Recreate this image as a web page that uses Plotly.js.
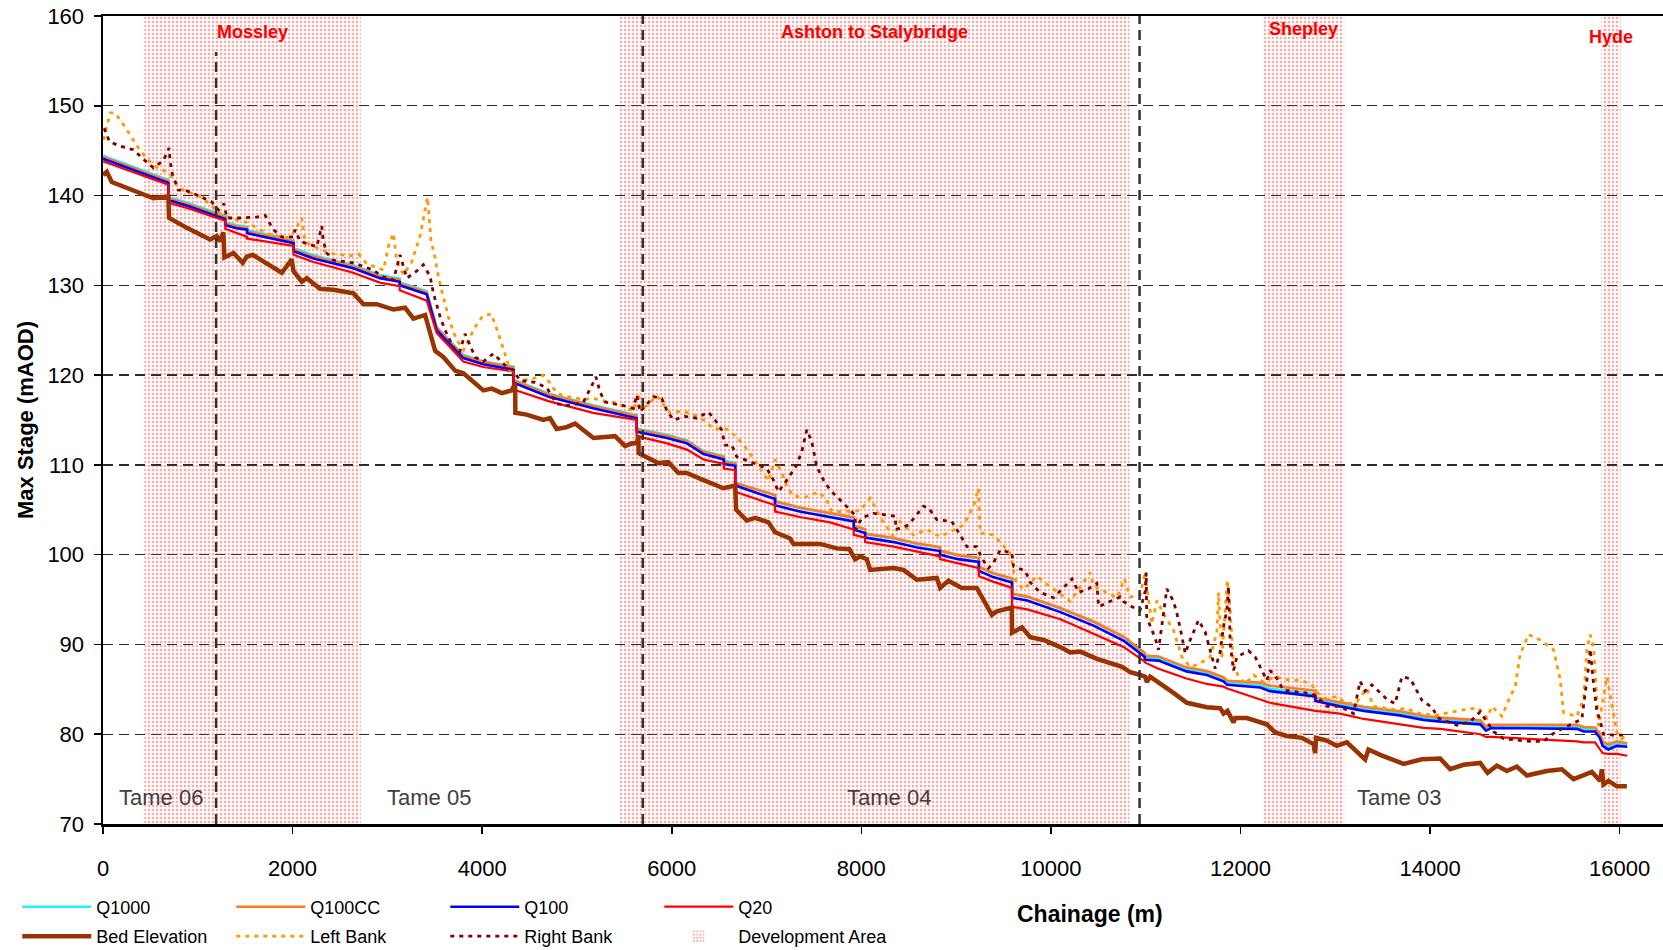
<!DOCTYPE html>
<html>
<head>
<meta charset="utf-8">
<script src="https://cdn.plot.ly/plotly-3.0.1.min.js"></script>
<style>
  html, body { margin: 0; padding: 0; background: #ffffff; overflow: hidden; }
  #chart { width: 1663px; height: 950px; }
</style>
</head>
<body>
<div id="chart"></div>
<script>
// ---------------- DATA ----------------
// Chainage (m) of model-result points (shared by the four return periods)
const modelX = [0, 690, 690, 920, 1200, 1290, 1290, 1410, 1520, 1520, 2010, 2010, 2220, 2640, 2920, 3130, 3130, 3415, 3520, 3750,
  3800, 4010, 4330, 4330, 4700, 5170, 5630, 5630, 5950, 6160, 6335, 6550, 6550, 6670, 6670, 7090, 7090, 7350, 7670, 7920,
  7920, 8040, 8040, 8340, 8590, 8830, 8830, 9020, 9240, 9240, 9390, 9590, 9590, 9750, 10100, 10450, 10770, 10990, 10990, 11135,
  11430, 11645, 11820, 11860, 12210, 12310, 12790, 12790, 13050, 13300, 13680, 13930, 14110, 14530, 14590, 14650, 15550, 15620, 15740, 15790,
  15820, 15880, 15970, 16080];

const q1000 = [144.45, 141.75, 139.85, 139.1, 138.05, 137.75, 137.05, 136.7, 136.55, 136.15, 135.05, 134.15, 133.35, 132.25, 131.15, 130.75, 130.35, 129.35, 125.35, 122.75,
  122.25, 121.55, 120.95, 119.5, 117.95, 116.65, 115.55, 114.05, 113.35, 112.75, 111.55, 110.95, 110.45, 110.25, 108.05, 106.6, 105.9, 105.2, 104.6, 104.1,
  103.2, 102.8, 102.3, 101.8, 101.2, 100.8, 100.4, 99.9, 99.6, 98.6, 97.9, 97.3, 95.6, 95.3, 94.0, 92.5, 90.8, 88.85, 88.55, 88.45,
  87.25, 86.85, 86.15, 85.75, 85.45, 85.05, 84.45, 83.95, 83.35, 82.85, 82.35, 81.85, 81.65, 81.35, 80.65, 80.95, 80.85, 80.55, 80.55, 79.85,
  78.95, 78.55, 78.95, 78.85];

const q100cc = [144.3, 141.6, 139.7, 138.95, 137.9, 137.6, 136.9, 136.55, 136.4, 136.0, 134.9, 134.0, 133.2, 132.1, 131.0, 130.6, 130.2, 129.2, 125.25, 122.65,
  122.15, 121.45, 120.85, 119.4, 117.85, 116.55, 115.45, 113.95, 113.25, 112.65, 111.45, 110.85, 110.35, 110.15, 107.95, 106.65, 105.95, 105.25, 104.65, 104.15,
  103.25, 102.85, 102.35, 101.85, 101.25, 100.85, 100.45, 99.95, 99.65, 98.65, 97.95, 97.35, 95.65, 95.35, 94.05, 92.55, 90.85, 89.05, 88.75, 88.65,
  87.45, 87.05, 86.35, 85.95, 85.75, 85.4, 84.85, 84.1, 83.55, 83.05, 82.55, 82.05, 81.85, 81.55, 80.85, 81.05, 81.05, 80.8, 80.75, 80.1,
  79.2, 78.85, 79.2, 79.0];

const q100 = [144.1, 141.4, 139.5, 138.75, 137.7, 137.4, 136.7, 136.35, 136.2, 135.8, 134.7, 133.8, 133.0, 131.9, 130.8, 130.4, 130.0, 129.0, 125.0, 122.4,
  121.9, 121.2, 120.6, 119.15, 117.6, 116.3, 115.2, 113.7, 113.0, 112.4, 111.2, 110.6, 110.1, 109.9, 107.7, 106.2, 105.5, 104.8, 104.2, 103.7,
  102.8, 102.4, 101.9, 101.4, 100.8, 100.4, 100.0, 99.5, 99.2, 98.2, 97.5, 96.9, 95.2, 94.9, 93.6, 92.1, 90.4, 88.6, 88.3, 88.2,
  87.0, 86.6, 85.9, 85.5, 85.2, 84.8, 84.2, 83.7, 83.1, 82.6, 82.1, 81.6, 81.4, 81.1, 80.4, 80.7, 80.6, 80.3, 80.3, 79.6,
  78.7, 78.3, 78.7, 78.6];

const q20 = [143.8, 141.2, 139.2, 138.5, 137.5, 137.2, 136.3, 135.8, 135.4, 135.2, 134.4, 133.4, 132.6, 131.4, 130.3, 129.9, 129.45, 128.3, 124.7, 122.1,
  121.5, 120.9, 120.4, 118.4, 117.1, 115.8, 115.0, 113.2, 112.4, 111.7, 110.6, 110.1, 109.6, 109.4, 107.0, 105.5, 104.8, 104.2, 103.6, 102.8,
  102.2, 101.9, 101.4, 100.9, 100.3, 99.8, 99.5, 99.0, 98.5, 97.6, 97.0, 96.3, 94.2, 93.9, 92.8, 91.2, 89.7, 88.1, 88.0, 87.3,
  86.2, 85.6, 85.3, 85.1, 83.8, 83.5, 82.6, 82.6, 82.3, 81.7, 81.1, 80.7, 80.6, 80.0, 79.7, 79.7, 79.2, 79.1, 79.1, 78.4,
  77.9, 77.8, 77.8, 77.6];

// Bed elevation
const bedX = [0, 40, 92, 321, 532, 690, 697, 884, 1130, 1200, 1235, 1270, 1281, 1376, 1474, 1517, 1580, 1657, 1886, 1991,
  2009, 2097, 2150, 2290, 2431, 2642, 2748, 2888, 3064, 3187, 3275, 3398, 3504, 3592, 3715, 3802, 4013, 4102, 4207, 4313,
  4348, 4350, 4470, 4646, 4716, 4786, 4892, 4980, 5174, 5402, 5508, 5578, 5631, 5648, 5650, 5859, 5965, 6070, 6158, 6335,
  6546, 6669, 6680, 6791, 6879, 7020, 7090, 7249, 7284, 7565, 7741, 7874, 7934, 7987, 8058, 8093, 8339, 8445, 8585, 8796,
  8831, 8919, 9060, 9218, 9271, 9377, 9429, 9588, 9590, 9694, 9782, 9923, 10099, 10204, 10310, 10486, 10750, 10838, 10943, 10994,
  11012, 11047, 11293, 11434, 11645, 11786, 11821, 11863, 11926, 11944, 12067, 12278, 12366, 12489, 12647, 12770, 12787, 12798, 12910, 13016,
  13122, 13315, 13350, 13473, 13720, 13914, 14106, 14212, 14353, 14528, 14606, 14704, 14810, 14915, 15021, 15232, 15390, 15513, 15707, 15794,
  15812, 15829, 15882, 15970, 16076];
const bedY = [142.3, 142.65, 141.5, 140.6, 139.7, 139.9, 137.5, 136.4, 135.1, 135.5, 134.9, 135.9, 133.1, 133.6, 132.5, 133.2, 133.4, 132.9, 131.4, 132.9,
  131.6, 130.4, 130.8, 129.6, 129.5, 129.1, 127.9, 127.9, 127.3, 127.5, 126.3, 126.7, 122.7, 122.0, 120.5, 120.2, 118.3, 118.5, 118.0, 118.3,
  119.1, 115.8, 115.6, 115.0, 115.2, 114.0, 114.2, 114.6, 113.0, 113.2, 112.1, 112.4, 112.4, 113.3, 111.3, 110.2, 110.3, 109.1, 109.1, 108.3,
  107.4, 107.7, 105.0, 103.8, 104.1, 103.6, 102.5, 101.8, 101.2, 101.2, 100.7, 100.6, 99.5, 99.8, 99.5, 98.3, 98.5, 98.3, 97.2, 97.4,
  96.3, 97.1, 96.3, 96.3, 95.3, 93.3, 93.7, 94.1, 91.3, 91.9, 90.8, 90.5, 89.7, 89.1, 89.2, 88.4, 87.5, 86.9, 86.6, 86.4,
  85.8, 86.4, 84.6, 83.5, 83.0, 82.9, 82.3, 82.6, 81.3, 81.8, 81.8, 81.1, 80.2, 79.8, 79.6, 78.9, 77.9, 79.6, 79.3, 78.7,
  79.1, 77.2, 78.3, 77.7, 76.7, 77.2, 77.3, 76.1, 76.6, 76.8, 75.7, 76.5, 75.9, 76.4, 75.4, 75.9, 76.1, 75.0, 75.8, 74.8,
  76.1, 74.4, 74.8, 74.2, 74.2];

// Left bank
const leftX = [5, 75, 127, 216, 374, 462, 584, 690, 778, 849, 1024, 1130, 1235, 1341, 1517, 1657, 1798, 1974, 2027, 2097,
  2132, 2290, 2431, 2607, 2695, 2783, 2959, 3012, 3064, 3100, 3170, 3257, 3345, 3424, 3460, 3502, 3547, 3648, 3726, 3804,
  3916, 4006, 4095, 4173, 4263, 4292, 4400, 4505, 4646, 4716, 4786, 4892, 5068, 5174, 5297, 5420, 5526, 5596, 5648, 5666,
  5736, 5842, 5982, 6123, 6228, 6351, 6439, 6580, 6686, 6774, 6862, 6932, 7020, 7090, 7161, 7214, 7284, 7407, 7548, 7636,
  7689, 7822, 7987, 8093, 8198, 8339, 8409, 8550, 8691, 8831, 9078, 9183, 9236, 9253, 9394, 9570, 9623, 9711, 9852, 9958,
  10204, 10415, 10450, 10697, 10775, 10836, 10941, 10994, 11012, 11065, 11118, 11188, 11293, 11381, 11469, 11557, 11680, 11751, 11768, 11803,
  11860, 11891, 11926, 11979, 12049, 12137, 12243, 12366, 12524, 12647, 12752, 12805, 12875, 13016, 13122, 13227, 13333, 13403, 13508, 13649,
  13737, 13895, 14054, 14230, 14388, 14511, 14599, 14652, 14757, 14845, 14898, 14950, 15038, 15179, 15302, 15373, 15408, 15548, 15620, 15654,
  15689, 15724, 15777, 15865, 15917, 15970, 16023, 16067];
const leftY = [146.2, 149.2, 149.2, 147.9, 145.3, 144.1, 143.0, 142.6, 141.2, 140.6, 139.9, 139.0, 138.0, 137.5, 137.0, 136.2, 135.5, 135.3, 136.2, 137.5,
  134.8, 134.0, 133.5, 133.3, 133.5, 132.4, 131.7, 134.4, 135.8, 132.6, 131.2, 132.6, 135.5, 139.8, 135.0, 133.1, 130.5, 126.3, 124.0, 122.8,
  125.2, 126.6, 126.8, 124.6, 121.6, 120.6, 119.5, 119.5, 120.0, 119.1, 118.0, 117.6, 117.3, 117.4, 117.1, 116.9, 116.3, 116.0, 118.0, 116.2,
  116.6, 117.7, 115.8, 116.0, 115.6, 114.9, 114.0, 114.0, 113.1, 112.0, 110.7, 109.6, 108.2, 110.6, 109.1, 107.6, 106.5, 106.4, 107.0, 106.1,
  104.8, 104.8, 104.9, 106.3, 104.2, 102.0, 103.7, 102.2, 102.8, 102.0, 103.3, 105.4, 107.4, 102.4, 102.2, 100.2, 97.2, 96.1, 97.6, 96.7,
  94.8, 98.0, 96.5, 95.2, 97.3, 95.3, 95.5, 98.1, 96.4, 92.3, 94.9, 93.4, 91.6, 88.6, 87.5, 87.8, 88.6, 91.4, 95.8, 88.4,
  97.2, 93.8, 87.8, 86.4, 85.6, 86.6, 85.8, 86.4, 86.0, 86.0, 85.5, 84.7, 84.0, 84.2, 83.4, 83.6, 85.1, 83.1, 82.9, 82.7,
  82.9, 82.3, 82.1, 82.5, 82.8, 82.9, 81.8, 83.1, 82.0, 84.2, 85.3, 88.9, 91.1, 90.4, 89.4, 86.1, 82.4, 82.0, 84.0, 89.4,
  91.1, 89.8, 80.9, 86.4, 83.5, 80.2, 79.5, 79.9];

// Right bank
const rightX = [12, 68, 180, 321, 420, 532, 637, 697, 708, 726, 796, 866, 1024, 1147, 1218, 1277, 1306, 1446, 1622, 1710,
  1798, 1886, 2009, 2027, 2079, 2255, 2308, 2325, 2361, 2431, 2642, 2853, 2941, 3064, 3134, 3170, 3205, 3310, 3380, 3451,
  3486, 3556, 3609, 3700, 3760, 3820, 3873, 3926, 4010, 4119, 4250, 4330, 4400, 4558, 4681, 4786, 4927, 5068, 5174, 5200,
  5244, 5297, 5490, 5596, 5631, 5666, 5807, 5895, 5947, 6017, 6140, 6263, 6386, 6457, 6527, 6562, 6633, 6686, 6791, 6862,
  7003, 7073, 7126, 7214, 7319, 7372, 7425, 7477, 7530, 7601, 7671, 7776, 7934, 7940, 8005, 8128, 8286, 8357, 8365, 8497,
  8656, 8709, 8796, 8954, 9042, 9113, 9218, 9271, 9341, 9394, 9464, 9588, 9605, 9729, 9782, 9887, 10028, 10116, 10222, 10292,
  10397, 10485, 10503, 10626, 10732, 10765, 10855, 10940, 10994, 11005, 11010, 11030, 11100, 11135, 11223, 11293, 11328, 11364, 11417, 11469,
  11557, 11627, 11733, 11786, 11821, 11856, 11874, 11891, 11926, 11961, 12084, 12155, 12278, 12313, 12384, 12454, 12753, 12805, 12910, 13051,
  13192, 13262, 13315, 13385, 13544, 13631, 13667, 13702, 13790, 13860, 13913, 14018, 14088, 14282, 14423, 14528, 14669, 14775, 15056, 15196,
  15302, 15390, 15601, 15671, 15689, 15724, 15759, 15794, 15829, 15935, 16040];
const rightY = [147.5, 146.0, 145.5, 145.1, 144.1, 143.1, 143.9, 145.3, 143.9, 142.6, 140.6, 140.6, 139.9, 139.3, 138.4, 139.1, 137.5, 137.5, 137.6, 137.8,
  136.2, 135.4, 135.4, 136.2, 134.9, 134.3, 136.6, 134.9, 133.6, 132.8, 132.5, 131.7, 131.0, 130.6, 133.4, 132.1, 130.8, 131.6, 132.3, 131.0,
  129.1, 126.5, 125.0, 123.0, 122.5, 124.6, 123.3, 122.0, 121.5, 122.4, 121.0, 120.5, 119.4, 119.2, 118.6, 116.8, 116.6, 117.0, 119.2, 119.8,
  118.1, 117.0, 116.6, 116.3, 117.8, 115.9, 117.6, 117.4, 116.1, 115.0, 115.4, 115.2, 115.9, 115.0, 113.9, 112.2, 112.2, 110.9, 110.5, 110.2,
  109.6, 108.3, 107.0, 108.3, 110.0, 111.5, 113.9, 112.6, 109.8, 108.3, 107.2, 106.1, 104.4, 102.8, 104.1, 104.6, 104.4, 104.3, 102.8, 103.3,
  105.4, 105.2, 103.9, 103.7, 102.2, 100.9, 100.9, 99.6, 98.5, 99.1, 100.5, 100.2, 98.7, 98.2, 96.9, 95.8, 95.2, 96.2, 97.3, 95.8,
  96.2, 96.8, 94.2, 94.8, 95.3, 94.8, 94.2, 93.8, 95.9, 98.0, 93.1, 92.5, 90.7, 89.4, 96.2, 94.8, 93.5, 91.8, 89.0, 90.5,
  92.7, 91.4, 87.3, 89.2, 92.0, 93.8, 96.5, 90.1, 87.1, 88.6, 89.3, 88.6, 86.0, 87.1, 86.2, 84.9, 84.5, 84.2, 83.1, 83.1,
  82.3, 85.9, 84.8, 85.5, 83.9, 83.4, 85.1, 86.4, 86.2, 84.9, 83.8, 83.0, 81.8, 81.0, 81.4, 82.5, 80.3, 79.5, 79.2, 79.2,
  80.1, 80.6, 81.7, 87.4, 89.5, 85.6, 82.6, 81.5, 80.0, 79.9, 79.9];

// Development areas (chainage extents) and their names
const devNames = ['Mossley', 'Ashton to Stalybridge', 'Shepley', 'Hyde'];
const devStart = [436, 5447, 12235, 15808];
const devEnd = [2720, 10830, 13095, 16011];

// River reaches: boundaries and labels
const reachBoundaries = [1193, 5694, 10935];
const reachNames = ['Tame 06', 'Tame 05', 'Tame 04', 'Tame 03'];
const reachLabelX = [615, 3435, 8291, 13674];

// Axis ticks
const xTicks = [0, 2000, 4000, 6000, 8000, 10000, 12000, 14000, 16000];
const yTicks = [70, 80, 90, 100, 110, 120, 130, 140, 150, 160];

// ---------------- CHART ----------------
const FONT = 'Liberation Sans, Arial, Helvetica, sans-serif';
const devBase = 70, devTop = 160;

const traces = [
  {
    type: 'bar', name: 'Development Area', legend: 'legend2', legendrank: 4, legendwidth: 175,
    x: devStart.map((s, i) => (s + devEnd[i]) / 2),
    y: devStart.map(() => devTop - devBase),
    base: devStart.map(() => devBase),
    width: devStart.map((s, i) => devEnd[i] - s),
    marker: {
      color: 'rgba(255,140,140,0.68)',
      line: {width: 0},
      pattern: {shape: '.', fgcolor: 'rgba(255,40,40,0.8)', bgcolor: 'rgba(0,0,0,0)', size: 4, solidity: 0.35, fillmode: 'overlay'}
    },
    hoverinfo: 'skip'
  },
  {type: 'scatter', mode: 'lines', name: 'Q1000', x: modelX, y: q1000, legend: 'legend', legendrank: 1,
   line: {color: '#22F2F2', width: 2.6}},
  {type: 'scatter', mode: 'lines', name: 'Q100CC', x: modelX, y: q100cc, legend: 'legend', legendrank: 2,
   line: {color: '#FF7A22', width: 2.6}},
  {type: 'scatter', mode: 'lines', name: 'Q100', x: modelX, y: q100, legend: 'legend', legendrank: 3,
   line: {color: '#0000FF', width: 2.6}},
  {type: 'scatter', mode: 'lines', name: 'Q20', x: modelX, y: q20, legend: 'legend', legendrank: 4,
   line: {color: '#FF0000', width: 2.2}},
  {type: 'scatter', mode: 'lines', name: 'Bed Elevation', x: bedX, y: bedY, legend: 'legend2', legendrank: 1,
   line: {color: '#993300', width: 4.5}},
  {type: 'scatter', mode: 'lines', name: 'Left Bank', x: leftX, y: leftY, legend: 'legend2', legendrank: 2,
   line: {color: '#FF9900', width: 2.8, dash: '4px,5px'}},
  {type: 'scatter', mode: 'lines', name: 'Right Bank', x: rightX, y: rightY, legend: 'legend2', legendrank: 3,
   line: {color: '#800000', width: 2.8, dash: '4px,5px'}}
];

const annotations = [];
devNames.forEach((n, i) => {
  const yShift = [0, 0, 3, -5][i];
  annotations.push({
    x: (devStart[i] + devEnd[i]) / 2, y: 158.2, xref: 'x', yref: 'y', yshift: yShift,
    text: '<b>' + n + '</b>', showarrow: false, xanchor: 'center', yanchor: 'middle',
    font: {family: FONT, size: 18, color: '#FF0000'}
  });
});
reachNames.forEach((n, i) => {
  annotations.push({
    x: reachLabelX[i], y: 72.95, xref: 'x', yref: 'y',
    text: n, showarrow: false, xanchor: 'center', yanchor: 'middle',
    font: {family: FONT, size: 22, color: '#404040'}
  });
});
annotations.push({
  x: 0.6327, y: -0.1114, xref: 'paper', yref: 'paper', text: '<b>Chainage (m)</b>',
  showarrow: false, xanchor: 'center', yanchor: 'middle',
  font: {family: FONT, size: 23, color: '#000000'}
});

const shapes = reachBoundaries.map((b, i) => ({
  type: 'line', xref: 'x', yref: 'y', x0: b, x1: b, y0: devBase, y1: i === 0 ? 156 : devTop,
  line: {color: '#333333', width: 2.5, dash: '10px,6px'}, layer: 'above'
}));

const legendCommon = {
  orientation: 'h', xref: 'container', yref: 'container', xanchor: 'left', yanchor: 'middle',
  font: {family: FONT, size: 18, color: '#000000'}, bgcolor: 'rgba(0,0,0,0)', borderwidth: 0,
  itemwidth: 69, entrywidth: 130, entrywidthmode: 'pixels', traceorder: 'normal', itemclick: false, itemdoubleclick: false
};

const layout = {
  width: 1663, height: 950,
  margin: {l: 103, r: 0, t: 16, b: 126, pad: 0},
  paper_bgcolor: '#ffffff', plot_bgcolor: '#ffffff',
  font: {family: FONT, color: '#000000'},
  showlegend: true,
  barmode: 'overlay',
  xaxis: {
    range: [0, 16457], tickvals: xTicks, ticktext: xTicks.map(String),
    ticks: 'outside', ticklen: 7, tickwidth: 1.5, tickcolor: '#000',
    showline: true, linecolor: '#000', linewidth: 2.5, mirror: true,
    showgrid: false, zeroline: false, ticklabelstandoff: 16,
    tickfont: {family: FONT, size: 22, color: '#000'}, fixedrange: true
  },
  yaxis: {
    range: [70, 160], tickvals: yTicks, ticktext: yTicks.map(String),
    ticks: 'outside', ticklen: 7, tickwidth: 1.5, tickcolor: '#000',
    showline: true, linecolor: '#000', linewidth: 2.5, mirror: false,
    showgrid: true, gridcolor: '#2a2a2a', gridwidth: 1.3, griddash: '10px,6px',
    zeroline: false, ticklabelstandoff: 5,
    tickfont: {family: FONT, size: 22, color: '#000'},
    title: {text: '<b>Max Stage (mAOD)</b>', font: {family: FONT, size: 22, color: '#000'}, standoff: 8},
    automargin: false, fixedrange: true
  },
  legend: Object.assign({}, legendCommon, {x: 0.0104, y: 1 - 907 / 950}),
  legend2: Object.assign({}, legendCommon, {x: 0.0104, y: 1 - 936.5 / 950}),
  annotations: annotations,
  shapes: shapes
};

Plotly.newPlot('chart', traces, layout, {displayModeBar: false, staticPlot: true});
</script>
</body>
</html>
